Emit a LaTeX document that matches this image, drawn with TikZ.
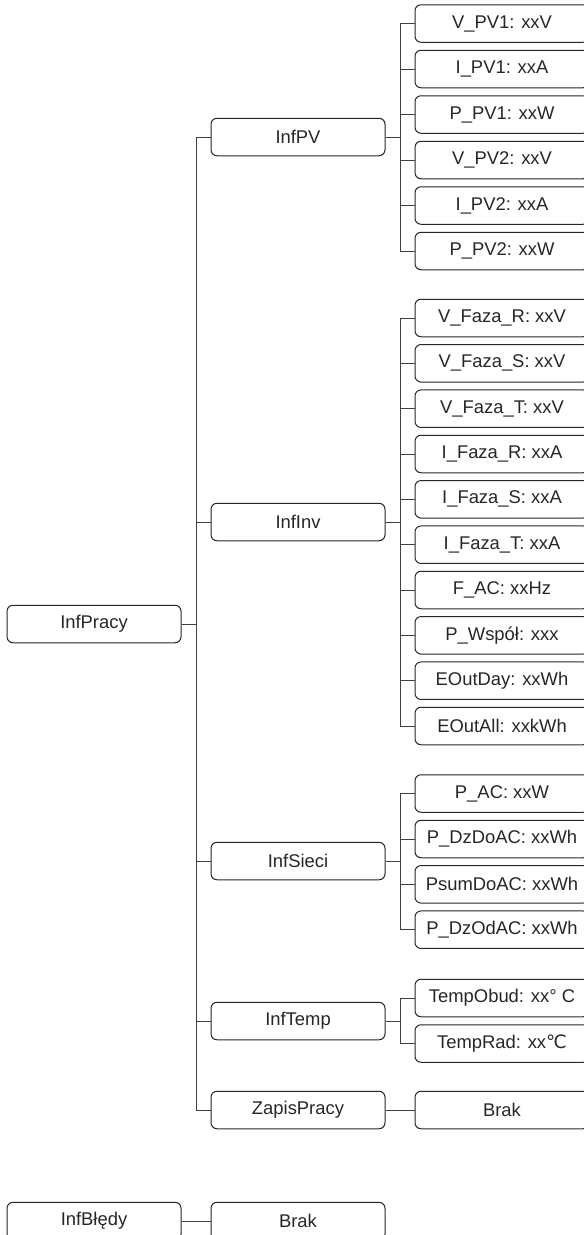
\documentclass[tikz,border=0pt]{standalone}
\usepackage{fontspec}
\setmainfont{Liberation Sans}
\newfontfamily\symfont{DejaVu Sans}
\begin{document}
\begin{tikzpicture}[x=1pt,y=-1pt,
  box/.style={draw=black!85, rounded corners=6pt, minimum width=174pt, minimum height=37.5pt,
    inner sep=0pt, line width=1pt, text=black!85, font=\fontsize{18.4}{22}\selectfont},
  conn/.style={draw=black!75, line width=1pt}]
\useasboundingbox (0,0) rectangle (584,1235);
\clip (0,0) rectangle (584,1235);
% level 1
\node[box] (pracy) at (94,624) {InfPracy};
% level 2
\node[box] (pv) at (298,137) {InfPV};
\node[box] (inv) at (298,522) {InfInv};
\node[box] (sieci) at (298,861) {InfSieci};
\node[box] (temp) at (298,1021) {InfTemp};
\node[box] (zapis) at (298,1110) {ZapisPracy};
% level 3 PV
\node[box] (vpv1) at (502,23.5) {V\_PV1: xxV};
\node[box] (ipv1) at (502,69) {I\_PV1: xxA};
\node[box] (ppv1) at (502,114.5) {P\_PV1: xxW};
\node[box] (vpv2) at (502,160) {V\_PV2: xxV};
\node[box] (ipv2) at (502,205.5) {I\_PV2: xxA};
\node[box] (ppv2) at (502,251) {P\_PV2: xxW};
% level 3 Inv
\node[box] (vr) at (502,318) {V\_Faza\_R: xxV};
\node[box] (vs) at (502,363.3) {V\_Faza\_S: xxV};
\node[box] (vt) at (502,408.7) {V\_Faza\_T: xxV};
\node[box] (ir) at (502,454) {I\_Faza\_R: xxA};
\node[box] (is) at (502,499.3) {I\_Faza\_S: xxA};
\node[box] (it) at (502,544.7) {I\_Faza\_T: xxA};
\node[box] (fac) at (502,590) {F\_AC: xxHz};
\node[box] (pw) at (502,635.3) {P\_Współ: xxx};
\node[box] (eday) at (502,680.7) {EOutDay: xxWh};
\node[box] (eall) at (502,726) {EOutAll: xxkWh};
% level 3 Sieci
\node[box] (pac) at (502,793.5) {P\_AC: xxW};
\node[box] (pdz) at (502,839) {P\_DzDoAC: xxWh};
\node[box] (psum) at (502,884.3) {PsumDoAC: xxWh};
\node[box] (pod) at (502,929.7) {P\_DzOdAC: xxWh};
% level 3 Temp
\node[box] (tobud) at (502,998) {TempObud: xx° C};
\node[box] (trad) at (502,1043.5) {TempRad: xx{\symfont ℃}};
% level 3 Zapis
\node[box] (brak1) at (502,1110) {Brak};
% bottom
\node[box] (bledy) at (94,1221) {InfBłędy};
\node[box] (brak2) at (298,1221) {Brak};
% connectors level 1 -> 2
\foreach \c in {pv,inv,sieci,temp,zapis}
  \draw[conn] (pracy.east) -- ++(15,0) |- (\c.west);
\foreach \c in {vpv1,ipv1,ppv1,vpv2,ipv2,ppv2}
  \draw[conn] (pv.east) -- ++(15,0) |- (\c.west);
\foreach \c in {vr,vs,vt,ir,is,it,fac,pw,eday,eall}
  \draw[conn] (inv.east) -- ++(15,0) |- (\c.west);
\foreach \c in {pac,pdz,psum,pod}
  \draw[conn] (sieci.east) -- ++(15,0) |- (\c.west);
\foreach \c in {tobud,trad}
  \draw[conn] (temp.east) -- ++(15,0) |- (\c.west);
\draw[conn] (zapis.east) -- (brak1.west);
\draw[conn] (bledy.east) -- (brak2.west);
\end{tikzpicture}
\end{document}
